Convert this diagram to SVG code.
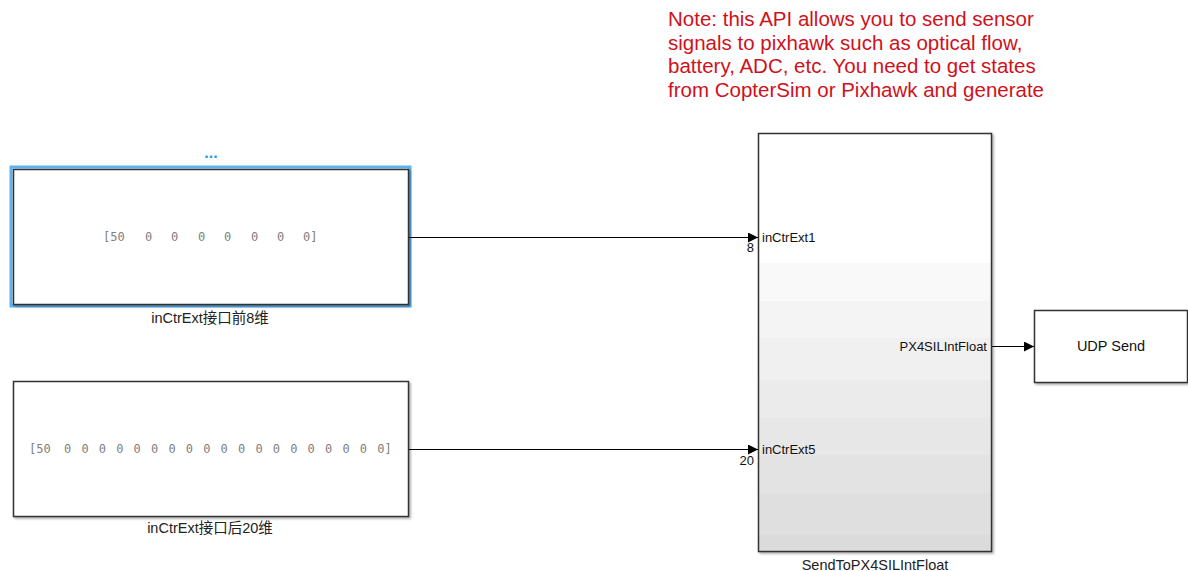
<svg xmlns="http://www.w3.org/2000/svg" width="1188" height="571" viewBox="0 0 1188 571">
<style>
.blk{fill:#fff;stroke:#333;stroke-width:1.5}
.lbl{font-family:"Liberation Sans","Noto Sans CJK SC",sans-serif;font-size:14.5px;fill:#222;text-anchor:middle}
.port{font-family:"Liberation Sans",Arial,sans-serif;font-size:13px;fill:#111}
.const{font-family:"DejaVu Sans Mono",monospace;font-size:12px;fill:#808080}
.note{font-family:"Liberation Sans",Arial,sans-serif;font-size:20.5px;fill:#d0111b}
.wire{stroke:#000;stroke-width:1;fill:none}
</style>
<defs>
<marker id="arr" viewBox="0 0 10 10" refX="10" refY="5" markerWidth="10" markerHeight="10" markerUnits="userSpaceOnUse" orient="auto">
<path d="M0,0 L10,5 L0,10 Z" fill="#000"/>
</marker>
<filter id="sh" x="-5%" y="-5%" width="110%" height="110%">
<feDropShadow dx="1.5" dy="1.5" stdDeviation="1" flood-color="#000" flood-opacity="0.35"/>
</filter>
<linearGradient id="g" x1="0" y1="0" x2="0" y2="1">
<stop offset="0" stop-color="#ffffff"/>
<stop offset="0.31" stop-color="#ffffff"/>
<stop offset="0.31" stop-color="#f9f9f9"/>
<stop offset="0.40" stop-color="#f9f9f9"/>
<stop offset="0.40" stop-color="#f4f4f4"/>
<stop offset="0.49" stop-color="#f4f4f4"/>
<stop offset="0.49" stop-color="#f0f0f0"/>
<stop offset="0.59" stop-color="#f0f0f0"/>
<stop offset="0.59" stop-color="#ebebeb"/>
<stop offset="0.68" stop-color="#ebebeb"/>
<stop offset="0.68" stop-color="#e7e7e7"/>
<stop offset="0.77" stop-color="#e7e7e7"/>
<stop offset="0.77" stop-color="#e3e3e3"/>
<stop offset="0.86" stop-color="#e3e3e3"/>
<stop offset="0.86" stop-color="#dfdfdf"/>
<stop offset="0.96" stop-color="#dfdfdf"/>
<stop offset="0.96" stop-color="#dbdbdb"/>
<stop offset="1" stop-color="#dbdbdb"/>
</linearGradient>
</defs>
<rect width="1188" height="571" fill="#fff"/>

<g id="note">
<text class="note" x="668" y="26">Note: this API allows you to send sensor</text>
<text class="note" x="668" y="50">signals to pixhawk such as optical flow,</text>
<text class="note" x="668" y="73">battery, ADC, etc. You need to get states</text>
<text class="note" x="668" y="97">from CopterSim or Pixhawk and generate</text>
</g>

<g id="const1">
<text x="211" y="158" font-family="Liberation Sans,sans-serif" font-size="16" font-weight="bold" fill="#1a9cf0" text-anchor="middle">...</text>
<rect x="11" y="167" width="399" height="139" fill="none" stroke="#5cb3f2" stroke-width="3"/>
<rect class="blk" x="13.5" y="169.5" width="395" height="135" filter="url(#sh)"/>
<text class="const" y="241"><tspan x="103">[50</tspan><tspan x="145">0</tspan><tspan x="171">0</tspan><tspan x="198">0</tspan><tspan x="224">0</tspan><tspan x="251">0</tspan><tspan x="277">0</tspan><tspan x="303">0]</tspan></text>
<text class="lbl" x="210" y="323">inCtrExt接口前8维</text>
</g>

<g id="const2">
<rect class="blk" x="13.5" y="381.5" width="395" height="135" filter="url(#sh)"/>
<text class="const" y="453"><tspan x="29">[50</tspan><tspan x="64">0</tspan><tspan x="81.4">0</tspan><tspan x="98.8">0</tspan><tspan x="116.2">0</tspan><tspan x="133.6">0</tspan><tspan x="151">0</tspan><tspan x="168.4">0</tspan><tspan x="185.8">0</tspan><tspan x="203.2">0</tspan><tspan x="220.6">0</tspan><tspan x="238">0</tspan><tspan x="255.4">0</tspan><tspan x="272.8">0</tspan><tspan x="290.2">0</tspan><tspan x="307.6">0</tspan><tspan x="325">0</tspan><tspan x="342.4">0</tspan><tspan x="359.8">0</tspan><tspan x="377.2">0]</tspan></text>
<text class="lbl" x="210" y="533">inCtrExt接口后20维</text>
</g>

<g id="send">
<rect x="758.5" y="133.5" width="233" height="418" fill="url(#g)" stroke="#333" stroke-width="1.5" filter="url(#sh)"/>
<text class="port" x="762" y="242">inCtrExt1</text>
<text class="port" x="762" y="454">inCtrExt5</text>
<text class="port" x="987" y="351" text-anchor="end">PX4SILIntFloat</text>
<text class="lbl" x="875" y="570">SendToPX4SILIntFloat</text>
</g>

<g id="udp">
<rect class="blk" x="1034.5" y="310.5" width="153" height="72" filter="url(#sh)"/>
<text x="1111" y="351" font-family="Liberation Sans,Arial,sans-serif" font-size="14.5" fill="#111" text-anchor="middle">UDP Send</text>
</g>

<g id="connectors">
<path class="wire" d="M409,237.5 H758" marker-end="url(#arr)"/>
<text class="port" x="754" y="252" text-anchor="end">8</text>
<path class="wire" d="M409,449.5 H758" marker-end="url(#arr)"/>
<text class="port" x="754" y="465" text-anchor="end">20</text>
<path class="wire" d="M992,346.5 H1034" marker-end="url(#arr)"/>
</g>
</svg>
